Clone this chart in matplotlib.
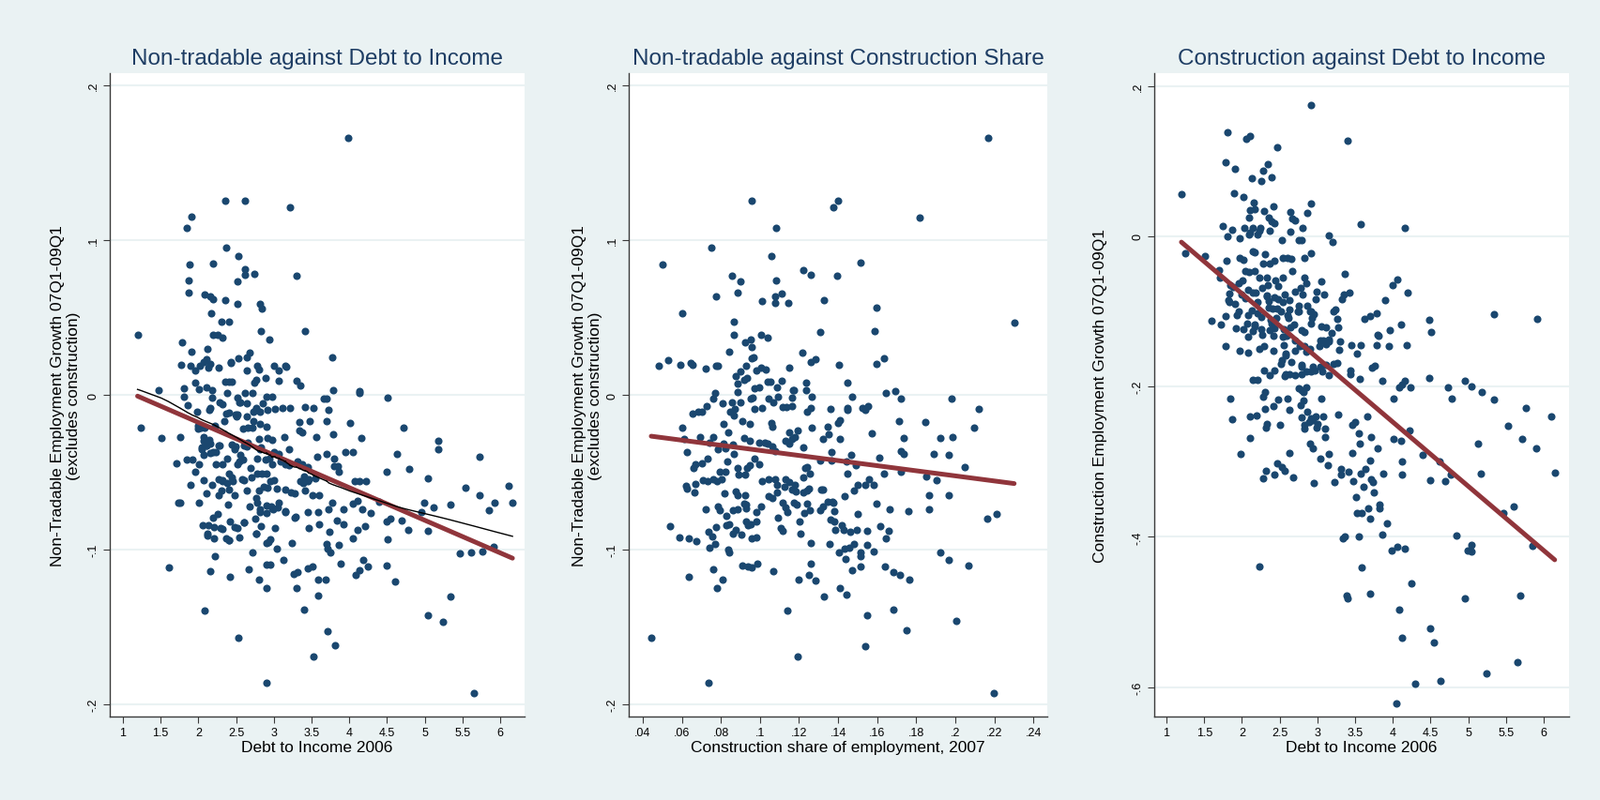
import numpy as np
import matplotlib
matplotlib.use("Agg")
import matplotlib.pyplot as plt
from matplotlib.ticker import FuncFormatter

plt.rcParams["font.family"] = ["Liberation Sans", "DejaVu Sans"]

# Colours (Stata s2color look)
NAVY = "#1a476f"
MAROON = "#90353b"
BG = "#eaf2f3"
TITLE_COL = "#1e3d64"
AXIS_COL = "#3a3a3a"

# ---- data ----
# panel 1: debt to income 2006 vs non-tradable employment growth
p1_points = [
    (3.98, 0.166), (2.355, 0.1255), (2.617, 0.1255), (3.217, 0.121), (1.903, 0.115), (1.848, 0.108),
    (2.364, 0.095), (2.525, 0.090), (1.889, 0.084), (2.194, 0.085), (2.617, 0.081), (2.617, 0.0775),
    (2.742, 0.078), (3.30, 0.077), (2.521, 0.0735), (1.871, 0.074), (1.871, 0.066), (2.078, 0.065),
    (2.157, 0.0636), (2.198, 0.062), (2.359, 0.061), (2.516, 0.059), (2.82, 0.059), (2.843, 0.056),
    (2.17, 0.053), (2.3, 0.047), (2.406, 0.047), (3.41, 0.041), (2.83, 0.041), (1.194, 0.039),
    (2.2, 0.0387), (2.258, 0.039), (2.313, 0.037), (2.94, 0.036), (1.779, 0.034), (2.124, 0.030),
    (1.908, 0.028), (2.673, 0.027), (2.636, 0.024), (2.525, 0.0235), (3.77, 0.024), (2.424, 0.0205),
    (2.43, 0.021), (2.101, 0.023), (2.065, 0.021), (2.014, 0.019), (1.77, 0.0195), (1.898, 0.019),
    (2.157, 0.020), (2.138, 0.0175), (2.267, 0.0175), (2.783, 0.019), (2.80, 0.0166), (3.005, 0.019),
    (3.148, 0.0185), (3.16, 0.018), (3.065, 0.016), (2.645, 0.0156), (1.959, 0.016), (2.765, 0.010),
    (2.894, 0.011), (3.065, 0.009), (3.295, 0.009), (3.355, 0.006), (2.359, 0.0083), (2.406, 0.0083),
    (2.442, 0.0083), (2.742, 0.0076), (1.959, 0.0076), (2.11, 0.005), (1.811, 0.0043), (1.479, 0.0033),
    (3.779, 0.0033), (4.138, 0.0026), (4.129, 0.0013), (2.005, 0.0036), (2.184, 0.0033), (2.714, 0.001),
    (2.378, 0.001), (1.811, -0.0013), (2.18, -0.002), (2.512, -0.0017), (2.613, 0.001), (2.899, -0.001),
    (2.972, -0.001), (3.659, -0.0026), (3.696, -0.0026), (4.507, -0.002), (1.862, -0.0066), (1.977, -0.011),
    (2.147, -0.010), (2.152, -0.0083), (2.313, -0.006), (2.539, -0.0046), (2.64, -0.0056), (2.733, -0.011),
    (2.77, -0.0083), (2.853, -0.0053), (2.912, -0.0096), (3.018, -0.009), (3.12, -0.0083), (3.212, -0.0083),
    (3.41, -0.0076), (3.53, -0.0083), (3.724, -0.0096), (4.009, -0.018), (3.479, -0.017), (3.34, -0.0175),
    (3.696, -0.017), (2.488, -0.013), (2.51, -0.014), (2.369, -0.0123), (2.4, -0.0116), (2.64, -0.014),
    (2.811, -0.019), (2.899, -0.0205), (2.346, -0.017), (4.719, -0.0215), (1.235, -0.021), (1.995, -0.020),
    (1.99, -0.022), (2.221, -0.020), (2.083, -0.0215), (2.59, -0.022), (2.714, -0.0215), (3.34, -0.023),
    (3.377, -0.024), (1.765, -0.027), (1.507, -0.028), (3.143, -0.027), (3.558, -0.027), (3.788, -0.0255),
    (4.157, -0.028), (5.18, -0.030), (5.175, -0.0354), (2.801, -0.0285), (2.912, -0.028), (2.074, -0.030),
    (2.11, -0.0325), (2.152, -0.0315), (2.272, -0.033), (2.442, -0.032), (2.498, -0.0334), (2.608, -0.033),
    (2.645, -0.0334), (2.041, -0.034), (2.05, -0.035), (2.834, -0.034), (3.005, -0.037), (3.203, -0.035),
    (3.949, -0.037), (4.05, -0.037), (3.696, -0.038), (3.571, -0.040), (4.631, -0.038), (5.724, -0.040),
    (3.06, -0.038), (2.157, -0.0377), (2.23, -0.0367), (1.705, -0.044), (1.848, -0.042), (1.922, -0.042),
    (2.005, -0.045), (2.382, -0.041), (2.313, -0.0447), (2.544, -0.043), (2.594, -0.0417), (2.779, -0.041),
    (2.885, -0.042), (2.935, -0.041), (3.088, -0.043), (3.198, -0.0457), (3.373, -0.045), (3.802, -0.041),
    (3.8, -0.046), (3.848, -0.046), (3.447, -0.0467), (4.788, -0.0477), (4.493, -0.050), (3.866, -0.050),
    (1.959, -0.050), (2.069, -0.055), (2.267, -0.0546), (2.313, -0.056), (2.382, -0.057), (2.442, -0.0536),
    (2.461, -0.056), (2.576, -0.0546), (2.705, -0.0536), (2.783, -0.051), (2.839, -0.051), (2.954, -0.056),
    (3.0, -0.055), (3.355, -0.056), (3.392, -0.057), (3.447, -0.056), (3.456, -0.0546), (3.553, -0.054),
    (4.074, -0.0556), (4.138, -0.056), (4.221, -0.056), (5.041, -0.054), (1.894, -0.058), (2.184, -0.058),
    (5.535, -0.060), (6.106, -0.0586), (2.309, -0.0616), (2.406, -0.061), (2.479, -0.065), (2.645, -0.062),
    (2.797, -0.0616), (2.866, -0.0596), (2.912, -0.060), (3.041, -0.0606), (3.156, -0.061), (3.226, -0.063),
    (3.281, -0.0636), (3.41, -0.0616), (3.512, -0.0646), (3.604, -0.065), (2.11, -0.0636), (2.272, -0.065),
    (2.009, -0.0695), (1.737, -0.070), (1.765, -0.0695), (2.396, -0.0709), (2.682, -0.072), (2.774, -0.0695),
    (2.816, -0.0738), (2.959, -0.072), (2.995, -0.074), (3.051, -0.073), (3.152, -0.075), (3.452, -0.0758),
    (3.581, -0.0758), (3.724, -0.0738), (3.77, -0.0695), (3.917, -0.0738), (4.05, -0.0705), (4.11, -0.0685),
    (4.166, -0.0738), (4.281, -0.0765), (4.396, -0.069), (4.959, -0.0755), (4.986, -0.0695), (5.12, -0.0725),
    (5.336, -0.0709), (5.848, -0.0745), (5.922, -0.070), (6.161, -0.0695), (5.724, -0.065), (2.258, -0.077),
    (2.751, -0.080), (2.903, -0.0765), (3.29, -0.079), (3.834, -0.081), (4.493, -0.082), (4.548, -0.080),
    (4.696, -0.0815), (2.06, -0.0844), (2.129, -0.0844), (2.207, -0.0858), (2.419, -0.082), (2.521, -0.086),
    (2.599, -0.0825), (2.834, -0.085), (3.014, -0.0864), (3.456, -0.0864), (3.604, -0.0838), (3.917, -0.0838),
    (4.11, -0.0874), (4.212, -0.085), (4.783, -0.0874), (5.046, -0.088), (2.115, -0.0895), (2.12, -0.091),
    (2.295, -0.086), (2.77, -0.090), (3.733, -0.0887), (2.207, -0.0927), (2.369, -0.093), (2.4, -0.0937),
    (2.539, -0.092), (2.954, -0.0934), (2.926, -0.0954), (3.244, -0.0957), (3.696, -0.0964), (3.705, -0.0997),
    (3.751, -0.102), (3.857, -0.097), (4.041, -0.0927), (4.507, -0.0934), (5.908, -0.098), (2.71, -0.1017),
    (3.041, -0.0993), (3.129, -0.107), (2.903, -0.1096), (2.949, -0.110), (2.221, -0.104), (5.465, -0.1026),
    (5.608, -0.1017), (5.76, -0.101), (1.604, -0.1116), (2.157, -0.114), (2.664, -0.1126), (3.447, -0.112),
    (3.512, -0.111), (3.88, -0.109), (4.184, -0.107), (4.249, -0.111), (4.129, -0.1136), (4.088, -0.1166),
    (4.493, -0.1106), (2.797, -0.1195), (2.419, -0.1175), (3.258, -0.1159), (3.318, -0.1149), (3.581, -0.1192),
    (3.682, -0.1195), (4.608, -0.1205), (2.908, -0.1248), (3.30, -0.125), (3.585, -0.1295), (5.336, -0.1305),
    (3.396, -0.139), (2.088, -0.1397), (5.046, -0.1427), (5.235, -0.1467), (3.714, -0.1526), (2.525, -0.157),
    (3.816, -0.162), (3.53, -0.169), (2.908, -0.186), (5.654, -0.193),
    (2.07, -0.027), (2.11, -0.033), (2.07, -0.039), (2.19, -0.037), (2.23, -0.045), (2.48, -0.035),
    (2.56, -0.039), (2.52, -0.045), (2.40, -0.051), (2.69, -0.047), (2.90, -0.051), (2.32, -0.055),
    (2.61, -0.055), (2.98, -0.045), (3.15, -0.045), (2.03, -0.021), (2.15, -0.029), (2.65, -0.031),
    (2.81, -0.035), (2.28, -0.033), (2.65, -0.021), (2.52, -0.013), (2.77, -0.009), (2.28, -0.005),
    (2.56, -0.005), (2.81, -0.011), (2.73, -0.017), (2.98, -0.029), (3.31, -0.043), (3.40, -0.053),
    (2.77, -0.067), (2.90, -0.0715), (2.98, -0.0735), (2.81, -0.0756), (3.06, -0.0695), (2.48, -0.0857),
    (2.19, -0.0796), (2.32, -0.0867), (2.77, -0.0897), (2.90, -0.0958), (2.61, -0.0826), (2.40, -0.0938),
    (3.15, -0.0756), (3.27, -0.0796),
]

# panel 2: construction share of employment 2007 vs non-tradable employment growth
p2_points = [
    (0.2167, 0.166), (0.0956, 0.1255), (0.1376, 0.121), (0.140, 0.1255), (0.1819, 0.1146), (0.1084, 0.108),
    (0.0752, 0.095), (0.106, 0.090), (0.0501, 0.0844), (0.1516, 0.0854), (0.1221, 0.0808), (0.1262, 0.0778),
    (0.0857, 0.0772), (0.1394, 0.0772), (0.090, 0.0735), (0.1084, 0.0738), (0.0775, 0.0639), (0.0887, 0.0662),
    (0.1079, 0.0639), (0.1109, 0.0652), (0.1008, 0.0606), (0.1076, 0.0593), (0.1143, 0.0593), (0.1328, 0.0613),
    (0.1596, 0.0566), (0.060, 0.0526), (0.0864, 0.047), (0.2302, 0.0467), (0.1307, 0.0407), (0.0866, 0.039),
    (0.1006, 0.039), (0.1038, 0.037), (0.0926, 0.0341), (0.0951, 0.036), (0.0956, 0.0308), (0.0841, 0.028),
    (0.1218, 0.0272), (0.1588, 0.041), (0.048, 0.0189), (0.053, 0.0225), (0.059, 0.0195), (0.0647, 0.0209),
    (0.0656, 0.0195), (0.0724, 0.0172), (0.0777, 0.0185), (0.0782, 0.0189), (0.0955, 0.0235), (0.0965, 0.0245),
    (0.093, 0.0189), (0.098, 0.0156), (0.1004, 0.0175), (0.1031, 0.0166), (0.1148, 0.0175), (0.1259, 0.0212),
    (0.1284, 0.0232), (0.1405, 0.0192), (0.1598, 0.0199), (0.1637, 0.0238), (0.0901, 0.0149), (0.0875, 0.0123),
    (0.0917, 0.0096), (0.0932, 0.011), (0.0884, 0.007), (0.104, 0.0085), (0.1052, 0.0082), (0.1111, 0.0093),
    (0.1234, 0.008), (0.1447, 0.008), (0.1088, 0.0046), (0.1091, -0.001), (0.1168, 0.003), (0.1176, 0.0033),
    (0.1236, 0.003), (0.0972, 0.004), (0.0996, 0.005), (0.077, 0.0013), (0.0884, 0.0017), (0.1643, 0.0013),
    (0.1691, 0.0026), (0.1721, -0.0023), (0.1982, -0.0026), (0.1472, -0.0013), (0.1266, -0.0013), (0.1164, -0.0017),
    (0.0759, -0.0026), (0.0855, -0.0046), (0.0951, -0.0023), (0.0963, -0.0017), (0.0901, -0.005), (0.1044, -0.0023),
    (0.0809, -0.0056), (0.0727, -0.007), (0.0681, -0.011), (0.0702, -0.011), (0.0654, -0.0123), (0.0846, -0.011),
    (0.0871, -0.0093), (0.0866, -0.0132), (0.0974, -0.009), (0.1012, -0.0086), (0.1067, -0.005), (0.1115, -0.0076),
    (0.1134, -0.0076), (0.1163, -0.007), (0.1239, -0.011), (0.126, -0.0083), (0.1362, -0.0093), (0.1447, -0.0099),
    (0.1449, -0.0083), (0.1527, -0.0083), (0.1541, -0.0099), (0.1554, -0.0073), (0.2121, -0.0093), (0.0814, -0.0189),
    (0.091, -0.0169), (0.0946, -0.0189), (0.1058, -0.0182), (0.1065, -0.0209), (0.115, -0.0242), (0.1195, -0.0228),
    (0.1264, -0.0212), (0.1346, -0.0209), (0.135, -0.0255), (0.141, -0.0166), (0.1399, -0.0182), (0.1408, -0.0288),
    (0.1575, -0.0248), (0.1712, -0.0169), (0.1845, -0.0175), (0.2096, -0.0212), (0.1737, -0.0281), (0.1924, -0.0281),
    (0.1984, -0.0275), (0.060, -0.0212), (0.0613, -0.0288), (0.0695, -0.0275), (0.0759, -0.0275), (0.0839, -0.0242),
    (0.0624, -0.0368), (0.0667, -0.0447), (0.0661, -0.0473), (0.0741, -0.0308), (0.0704, -0.044), (0.0732, -0.0414),
    (0.0784, -0.0354), (0.0811, -0.0315), (0.0821, -0.0348), (0.0862, -0.0321), (0.0868, -0.0381), (0.0921, -0.0281),
    (0.0948, -0.0295), (0.0996, -0.0308), (0.1026, -0.0311), (0.104, -0.0315), (0.1065, -0.0334), (0.1076, -0.0361),
    (0.1132, -0.0298), (0.115, -0.0315), (0.1164, -0.0288), (0.118, -0.0272), (0.1221, -0.0341), (0.1321, -0.0288),
    (0.1364, -0.0371), (0.1468, -0.0387), (0.1609, -0.0407), (0.172, -0.0361), (0.1737, -0.0381), (0.1892, -0.0381),
    (0.1968, -0.0387), (0.2048, -0.0464), (0.1851, -0.0526), (0.1903, -0.0553), (0.1724, -0.050), (0.1636, -0.0507),
    (0.1492, -0.0457), (0.1442, -0.043), (0.1449, -0.0507), (0.1257, -0.0507), (0.1243, -0.0464), (0.123, -0.0473),
    (0.1221, -0.0536), (0.131, -0.0424), (0.1364, -0.0424), (0.0972, -0.0414), (0.0994, -0.0447), (0.0933, -0.0473),
    (0.0946, -0.0454), (0.0924, -0.0513), (0.0884, -0.0473), (0.0891, -0.0513), (0.0834, -0.043), (0.0825, -0.0497),
    (0.0795, -0.0497), (0.0804, -0.0546), (0.0759, -0.0546), (0.078, -0.056), (0.0732, -0.056), (0.0706, -0.0553),
    (0.0622, -0.0586), (0.0628, -0.0606), (0.0665, -0.0629), (0.0668, -0.0576), (0.082, -0.0639), (0.0876, -0.0623),
    (0.0884, -0.0646), (0.0923, -0.0646), (0.093, -0.0712), (0.0919, -0.0705), (0.1008, -0.056), (0.1044, -0.0546),
    (0.1077, -0.0546), (0.1086, -0.058), (0.1124, -0.0593), (0.1132, -0.0546), (0.115, -0.0563), (0.1163, -0.0613),
    (0.1182, -0.0626), (0.1179, -0.058), (0.1221, -0.0633), (0.1239, -0.0619), (0.1253, -0.0606), (0.1314, -0.061),
    (0.1322, -0.0613), (0.1371, -0.0689), (0.1435, -0.0652), (0.1479, -0.0619), (0.1501, -0.058), (0.1539, -0.058),
    (0.1559, -0.0546), (0.158, -0.058), (0.1598, -0.0702), (0.1664, -0.0738), (0.176, -0.0752), (0.1867, -0.0649),
    (0.1966, -0.0649), (0.1866, -0.0738), (0.2164, -0.0801), (0.2212, -0.0768), (0.0539, -0.0851), (0.0585, -0.092),
    (0.0635, -0.093), (0.0672, -0.0944), (0.0738, -0.0887), (0.0756, -0.0917), (0.0741, -0.0987), (0.0772, -0.0967),
    (0.0777, -0.0854), (0.0827, -0.0844), (0.0841, -0.0838), (0.0862, -0.0897), (0.0875, -0.0871), (0.0839, -0.1003),
    (0.0844, -0.1017), (0.0905, -0.0904), (0.093, -0.0818), (0.0937, -0.0844), (0.0951, -0.0838), (0.098, -0.0818),
    (0.0955, -0.0927), (0.0981, -0.0924), (0.083, -0.0785), (0.0795, -0.0745), (0.0782, -0.0722), (0.0724, -0.0738),
    (0.0884, -0.0738), (0.0862, -0.0745), (0.093, -0.0735), (0.0983, -0.0758), (0.1004, -0.0722), (0.1044, -0.0652),
    (0.1065, -0.0669), (0.1088, -0.0629), (0.1115, -0.0695), (0.1141, -0.0758), (0.1129, -0.0728), (0.1093, -0.0795),
    (0.1106, -0.0861), (0.1115, -0.0877), (0.1173, -0.0695), (0.1189, -0.0712), (0.1239, -0.0705), (0.1257, -0.0745),
    (0.1204, -0.0818), (0.1228, -0.0762), (0.1207, -0.0897), (0.1262, -0.0957), (0.1307, -0.0745), (0.1321, -0.0722),
    (0.1346, -0.0692), (0.1374, -0.0695), (0.1378, -0.0752), (0.136, -0.0805), (0.1378, -0.0818), (0.1385, -0.0871),
    (0.1421, -0.0844), (0.143, -0.0871), (0.1463, -0.0884), (0.1502, -0.0768), (0.1496, -0.0871), (0.1479, -0.0967),
    (0.1433, -0.0997), (0.1356, -0.0964), (0.1403, -0.102), (0.1436, -0.1063), (0.1456, -0.0987), (0.1514, -0.102),
    (0.1516, -0.1043), (0.155, -0.097), (0.1551, -0.0877), (0.1584, -0.1013), (0.1617, -0.0851), (0.1644, -0.0927),
    (0.1657, -0.0877), (0.1924, -0.1017), (0.1966, -0.107), (0.0635, -0.1175), (0.0759, -0.1126), (0.0807, -0.1195),
    (0.0779, -0.1248), (0.0908, -0.1103), (0.0937, -0.1109), (0.0958, -0.1116), (0.0988, -0.1093), (0.1068, -0.1139),
    (0.12, -0.1195), (0.125, -0.1162), (0.1262, -0.109), (0.1285, -0.1202), (0.1326, -0.1301), (0.1408, -0.1248),
    (0.1445, -0.1291), (0.1474, -0.1132), (0.1515, -0.1109), (0.164, -0.1109), (0.1684, -0.1149), (0.1719, -0.1166),
    (0.1764, -0.1192), (0.2069, -0.1103), (0.114, -0.1397), (0.155, -0.1424), (0.1683, -0.1387), (0.2004, -0.1464),
    (0.1749, -0.1523), (0.0443, -0.1573), (0.1537, -0.1623), (0.1195, -0.1689), (0.0736, -0.1861), (0.2196, -0.193),
]

# panel 3: debt to income 2006 vs construction employment growth
p3_points = [
    (2.914, 0.175), (1.814, 0.139), (3.397, 0.127), (2.053, 0.130), (2.104, 0.133), (2.472, 0.119),
    (1.787, 0.098), (2.348, 0.096), (1.911, 0.0895), (2.283, 0.087), (2.398, 0.079), (2.136, 0.077),
    (2.26, 0.073), (1.198, 0.0556), (1.892, 0.0576), (2.016, 0.052), (2.155, 0.045), (2.918, 0.043),
    (2.412, 0.040), (2.104, 0.035), (2.168, 0.0366), (2.288, 0.033), (2.642, 0.0325), (2.665, 0.023),
    (2.702, 0.0217), (2.863, 0.031), (2.09, 0.025), (2.357, 0.025), (2.389, 0.020), (2.426, 0.017),
    (3.58, 0.0156), (4.16, 0.011), (1.741, 0.014), (1.874, 0.008), (2.035, 0.0115), (2.141, 0.011),
    (2.242, 0.011), (2.366, 0.0075), (2.647, 0.006), (2.803, 0.011), (1.814, -0.0007), (1.966, -0.003),
    (2.095, 0.002), (2.104, 0.0054), (2.21, 0.002), (2.228, 0.0068), (2.527, -0.0054), (2.748, -0.0054),
    (2.794, -0.0054), (3.157, 0.0007), (3.203, -0.008), (1.244, -0.023), (1.515, -0.0264), (1.791, -0.0325),
    (1.966, -0.0285), (2.026, -0.031), (2.145, -0.0203), (2.173, -0.0217), (2.279, -0.036), (2.311, -0.0237),
    (2.366, -0.036), (2.426, -0.0325), (2.541, -0.0285), (2.605, -0.029), (2.656, -0.030), (2.831, -0.029),
    (2.918, -0.0224), (1.699, -0.0447), (1.713, -0.0556), (1.851, -0.065), (1.879, -0.067), (1.952, -0.0624),
    (2.012, -0.0583), (2.049, -0.046), (2.095, -0.0475), (2.173, -0.046), (2.228, -0.055), (2.274, -0.0692),
    (2.334, -0.0556), (2.343, -0.065), (2.44, -0.0583), (2.486, -0.0664), (2.541, -0.0556), (2.67, -0.0468),
    (2.831, -0.0556), (2.858, -0.0624), (3.052, -0.0597), (3.364, -0.050), (1.837, -0.076), (1.819, -0.0854),
    (1.906, -0.090), (1.998, -0.0773), (2.044, -0.082), (2.145, -0.0753), (2.182, -0.0753), (2.325, -0.0786),
    (2.352, -0.0868), (2.426, -0.0807), (2.486, -0.084), (2.573, -0.0773), (2.628, -0.0854), (2.702, -0.0732),
    (2.78, -0.0685), (2.803, -0.0773), (2.987, -0.0732), (2.973, -0.084), (3.088, -0.0773), (3.332, -0.084),
    (3.35, -0.0773), (3.424, -0.0753), (3.903, -0.0847), (4.0, -0.065), (4.058, -0.057), (4.192, -0.0753),
    (1.787, -0.1058), (1.603, -0.1119), (1.727, -0.1173), (1.938, -0.1044), (2.086, -0.1044), (2.127, -0.099),
    (2.205, -0.103), (2.256, -0.107), (2.352, -0.095), (2.375, -0.111), (2.394, -0.116), (2.472, -0.0963),
    (2.518, -0.1003), (2.605, -0.1044), (2.633, -0.0976), (2.748, -0.0929), (2.752, -0.1003), (2.872, -0.0922),
    (2.909, -0.0997), (2.923, -0.109), (2.955, -0.1037), (3.212, -0.1003), (3.245, -0.0976), (3.263, -0.1098),
    (3.282, -0.1214), (3.631, -0.1098), (3.70, -0.1058), (3.787, -0.1024), (4.114, -0.1173), (3.801, -0.1309),
    (3.958, -0.1247), (4.487, -0.1112), (4.505, -0.1275), (5.338, -0.1037), (5.912, -0.1105), (1.915, -0.122),
    (2.021, -0.1234), (2.076, -0.1166), (2.15, -0.1261), (2.168, -0.1193), (2.274, -0.1309), (2.251, -0.1234),
    (2.412, -0.1329), (2.431, -0.1227), (2.555, -0.1234), (2.587, -0.1329), (2.642, -0.1207), (2.697, -0.118),
    (2.794, -0.1247), (2.826, -0.1275), (2.914, -0.1159), (3.056, -0.1193), (3.116, -0.1207), (3.194, -0.1281),
    (3.153, -0.137), (3.3, -0.1403), (1.778, -0.1458), (1.966, -0.1525), (2.081, -0.1553), (2.233, -0.1498),
    (2.412, -0.1519), (2.55, -0.1451), (2.582, -0.1566), (2.702, -0.1519), (2.766, -0.1464), (2.849, -0.1532),
    (2.909, -0.1498), (3.024, -0.1464), (3.042, -0.1383), (3.111, -0.1437), (3.157, -0.1397), (3.286, -0.1505),
    (3.452, -0.1444), (3.53, -0.1566), (3.571, -0.1444), (3.787, -0.1444), (3.815, -0.1329), (3.944, -0.1464),
    (4.183, -0.1444), (2.297, -0.1783), (2.366, -0.1851), (2.43, -0.1783), (2.513, -0.1702), (2.527, -0.1647),
    (2.564, -0.1858), (2.628, -0.1837), (2.702, -0.1844), (2.794, -0.1736), (2.849, -0.1803), (2.941, -0.1736),
    (2.969, -0.179), (3.042, -0.1736), (3.07, -0.1803), (3.148, -0.1851), (3.217, -0.1702), (3.263, -0.1681),
    (3.438, -0.179), (3.443, -0.183), (3.562, -0.1898), (2.141, -0.1912), (2.201, -0.1905), (3.723, -0.1749),
    (3.76, -0.1722), (3.861, -0.1919), (4.238, -0.2007), (4.482, -0.1885), (4.735, -0.2007), (4.956, -0.1919),
    (5.039, -0.2), (4.091, -0.2007), (4.118, -0.1973), (4.16, -0.1925), (4.008, -0.2156), (4.781, -0.2156),
    (5.181, -0.2075), (5.338, -0.217), (1.846, -0.2163), (1.874, -0.2434), (1.984, -0.2895), (2.109, -0.2685),
    (2.113, -0.24), (2.196, -0.2386), (2.279, -0.2129), (2.311, -0.2075), (2.307, -0.2298), (2.325, -0.2495),
    (2.32, -0.255), (2.421, -0.2264), (2.5, -0.2515), (2.486, -0.2176), (2.605, -0.2163), (2.624, -0.2312),
    (2.624, -0.2881), (2.283, -0.322), (2.32, -0.3119), (2.426, -0.3173), (2.472, -0.3024), (2.527, -0.3071),
    (2.564, -0.3125), (2.684, -0.3207), (2.757, -0.2027), (2.812, -0.2075), (2.812, -0.219), (2.849, -0.2007),
    (2.78, -0.2244), (2.794, -0.2414), (2.826, -0.2563), (2.831, -0.2515), (2.89, -0.2468), (2.941, -0.2447),
    (2.909, -0.2753), (2.941, -0.282), (2.978, -0.24), (3.001, -0.2495), (2.996, -0.2549), (3.056, -0.2163),
    (3.079, -0.24), (3.102, -0.2563), (3.102, -0.2671), (3.042, -0.2956), (3.157, -0.2902), (3.134, -0.3051),
    (2.95, -0.3288), (3.231, -0.3268), (3.272, -0.2373), (3.314, -0.3092), (3.318, -0.3173), (3.415, -0.3139),
    (3.466, -0.2881), (3.466, -0.2515), (3.503, -0.2475), (3.553, -0.2617), (3.557, -0.2759), (3.507, -0.3471),
    (3.521, -0.3681), (3.585, -0.3681), (3.47, -0.3261), (3.58, -0.3159), (3.64, -0.3092), (3.608, -0.3329),
    (3.677, -0.362), (3.696, -0.3756), (3.709, -0.3227), (3.737, -0.3268), (3.751, -0.341), (3.70, -0.2983),
    (3.714, -0.2671), (3.797, -0.2827), (3.668, -0.2393), (3.879, -0.3159), (3.824, -0.3566), (3.819, -0.362),
    (3.921, -0.3817), (4.008, -0.2698), (4.114, -0.2725), (4.128, -0.2997), (4.123, -0.3173), (4.224, -0.2583),
    (3.337, -0.4014), (3.364, -0.40), (3.553, -0.40), (3.861, -0.3973), (3.981, -0.4183), (4.063, -0.4136),
    (4.16, -0.4156), (4.39, -0.2908), (4.496, -0.3247), (4.615, -0.299), (4.698, -0.3254), (4.767, -0.3173),
    (4.845, -0.398), (4.997, -0.4176), (5.043, -0.419), (5.039, -0.4102), (5.126, -0.2759), (5.167, -0.3159),
    (5.471, -0.3688), (5.526, -0.2522), (5.609, -0.36), (5.715, -0.2698), (5.765, -0.2285), (5.899, -0.282),
    (5.848, -0.4115), (6.101, -0.24), (6.147, -0.3146), (5.687, -0.4786), (4.96, -0.4814), (4.247, -0.4624),
    (4.091, -0.4969), (4.128, -0.5342), (4.494, -0.5214), (4.55, -0.541), (5.651, -0.5668), (5.236, -0.581),
    (4.638, -0.5912), (4.293, -0.5953), (4.054, -0.621), (2.228, -0.4393), (3.585, -0.4407), (3.392, -0.4786),
    (3.401, -0.482), (3.696, -0.4753),
    (2.08, -0.0715), (2.21, -0.088), (2.33, -0.080), (2.41, -0.0964), (2.54, -0.088), (2.62, -0.109),
    (2.74, -0.1005), (2.91, -0.1005), (2.17, -0.117), (2.37, -0.1255), (2.54, -0.134), (2.70, -0.138),
    (2.83, -0.146), (2.58, -0.159), (2.66, -0.167), (2.79, -0.171), (2.91, -0.180), (2.58, -0.184),
    (2.79, -0.184), (2.29, -0.146), (2.08, -0.134), (1.96, -0.1005), (1.83, -0.088), (2.46, -0.109),
    (3.08, -0.138), (3.12, -0.171), (2.79, -0.2045), (2.87, -0.2336), (2.91, -0.242),
]

titles = ["Non-tradable against Debt to Income",
          "Non-tradable against Construction Share",
          "Construction against Debt to Income"]
xlabels = ["Debt to Income 2006", "Construction share of employment, 2007", "Debt to Income 2006"]
ylabels = ["Non-Tradable Employment Growth 07Q1-09Q1\n(excludes construction)",
           "Non-Tradable Employment Growth 07Q1-09Q1\n(excludes construction)",
           "Construction Employment Growth 07Q1-09Q1"]
debt_ticks = [1, 1.5, 2, 2.5, 3, 3.5, 4, 4.5, 5, 5.5, 6]
share_ticks = [0.04, 0.06, 0.08, 0.10, 0.12, 0.14, 0.16, 0.18, 0.20, 0.22, 0.24]
nt_ticks = [-0.2, -0.1, 0, 0.1, 0.2]
cons_ticks = [-0.6, -0.4, -0.2, 0, 0.2]


def stata_fmt(v, pos=None):
    s = f"{round(v, 6):g}"
    if s.startswith("0."):
        s = s[1:]
    elif s.startswith("-0."):
        s = "-" + s[2:]
    return s


def stata_lowess(x, y, bw=0.8):
    # running-line smoother with tricube weights, as Stata's lowess does
    order = np.argsort(x)
    xs, ys = x[order], y[order]
    n = len(xs)
    k = int(np.floor((n * bw - 0.5) / 2))
    out = np.empty(n)
    for i in range(n):
        lo, hi = max(0, i - k), min(n - 1, i + k)
        sx, sy = xs[lo:hi + 1], ys[lo:hi + 1]
        delta = 1.0001 * max(xs[hi] - xs[i], xs[i] - xs[lo])
        u = np.abs(sx - xs[i]) / delta
        w = np.where(u < 1, (1 - u ** 3) ** 3, 0.0)
        xm = np.sum(w * sx) / w.sum()
        ym = np.sum(w * sy) / w.sum()
        sxx = np.sum(w * (sx - xm) ** 2)
        b = np.sum(w * (sx - xm) * (sy - ym)) / sxx if sxx > 0 else 0.0
        out[i] = ym + b * (xs[i] - xm)
    return xs, out


fig = plt.figure(figsize=(17.05, 8.54), dpi=100, facecolor=BG)

# axes boxes in figure fractions
boxes = [[0.0686, 0.1042, 0.2592, 0.8033],
         [0.3930, 0.1042, 0.2616, 0.8033],
         [0.7214, 0.1042, 0.2592, 0.8033]]
xlims = [(0.826, 6.32), (0.0328, 0.2472), (0.838, 6.336)]
ylims = [(-0.208, 0.208), (-0.208, 0.208), (-0.639, 0.217)]
xticks = [debt_ticks, share_ticks, debt_ticks]
yticks = [nt_ticks, nt_ticks, cons_ticks]
ylab_x = [-0.107, -0.099, -0.131]
points = [p1_points, p2_points, p3_points]

for i in range(3):
    ax = fig.add_axes(boxes[i])
    ax.set_facecolor("white")
    pts = np.array(points[i])
    x, y = pts[:, 0], pts[:, 1]

    ax.scatter(x, y, s=34, color=NAVY, linewidths=0, zorder=3)

    # linear fit
    coef = np.polyfit(x, y, 1)
    xx = np.array([x.min(), x.max()])
    ax.plot(xx, np.polyval(coef, xx), color=MAROON, lw=3.6, solid_capstyle="round", zorder=4)

    if i == 0:
        lx, ly = stata_lowess(x, y)
        ax.plot(lx, ly, color="black", lw=1.0, zorder=5)

    ax.set_xlim(*xlims[i])
    ax.set_ylim(*ylims[i])
    ax.set_xticks(xticks[i])
    ax.set_yticks(yticks[i])
    ax.xaxis.set_major_formatter(FuncFormatter(stata_fmt))
    ax.yaxis.set_major_formatter(FuncFormatter(stata_fmt))

    ax.grid(axis="y", color=BG, lw=1.5, zorder=0)
    ax.set_axisbelow(True)
    for side in ["top", "right"]:
        ax.spines[side].set_visible(False)
    for side in ["left", "bottom"]:
        ax.spines[side].set_color(AXIS_COL)
        ax.spines[side].set_linewidth(1.0)
    ax.tick_params(direction="out", length=5, width=0.8, color=AXIS_COL,
                   labelsize=9, pad=3, labelcolor="black")
    ax.tick_params(axis="y", labelrotation=90)
    for lab in ax.get_yticklabels():
        lab.set_va("center")

    ax.set_title(titles[i], fontsize=17.5, color=TITLE_COL, pad=7)
    ax.set_xlabel(xlabels[i], fontsize=12.5, labelpad=1)
    ax.set_ylabel(ylabels[i], fontsize=12.5, linespacing=1.15)
    ax.yaxis.label.set_verticalalignment("center")
    ax.yaxis.set_label_coords(ylab_x[i], 0.5)

plt.savefig("out.png", dpi=100, facecolor=BG)
